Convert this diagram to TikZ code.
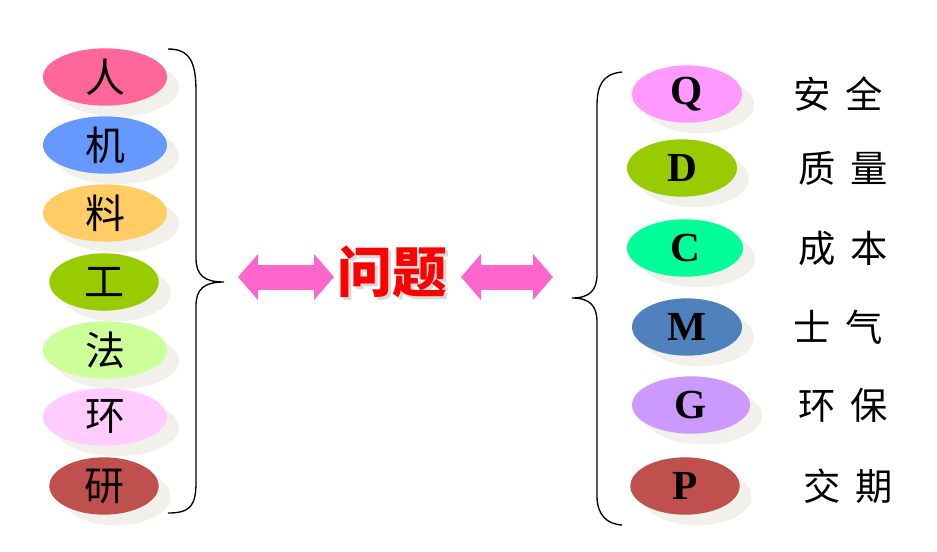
\documentclass[tikz,border=0pt]{standalone}
\usepackage{fontspec}
\setmainfont{Liberation Serif}
\newfontfamily\cjk{Noto Sans CJK SC}
\usetikzlibrary{shapes.geometric, shadows, arrows.meta}
\definecolor{shadowGray}{HTML}{F1F0EA}
\definecolor{arrowPink}{HTML}{FF66CC}
\definecolor{renPink}{HTML}{FF6699}
\definecolor{jiBlue}{HTML}{6699FF}
\definecolor{liaoGold}{HTML}{FFCC66}
\definecolor{oliveGreen}{HTML}{99CC00}
\definecolor{faLime}{HTML}{CCFF99}
\definecolor{huanRose}{HTML}{FFCCFF}
\definecolor{brickRed}{HTML}{C0504D}
\definecolor{qViolet}{HTML}{FF99FF}
\definecolor{cMint}{HTML}{00FF99}
\definecolor{mSteel}{HTML}{4F81BD}
\definecolor{gLilac}{HTML}{CC99FF}

\begin{document}
\begin{tikzpicture}[x=0.75pt, y=-0.75pt,
    blob/.style={ellipse, inner sep=0pt, minimum height=43pt, minimum width=93pt,
      drop shadow={shadow xshift=9pt, shadow yshift=-8pt, fill=shadowGray, opacity=1}},
    hanzi/.style={font=\cjk\fontsize{30}{30}\selectfont},
    letter/.style={font=\bfseries\fontsize{31}{31}\selectfont},
    word/.style={font=\cjk\fontsize{28}{28}\selectfont},
    brace/.style={line width=1pt, black},
    dbl/.style={line width=18.75pt, arrowPink,
      {Triangle[width=33.75pt, length=15pt]}-{Triangle[width=33.75pt, length=15pt]}}]
  \useasboundingbox (0,0) rectangle (937,551);

  % left column
  \node[blob, fill=renPink, hanzi] (ren) at (105,77) {人};
  \node[blob, fill=jiBlue, hanzi] (ji) at (105,145) {机};
  \node[blob, fill=liaoGold, hanzi] (liao) at (105,213) {料};
  \node[blob, fill=oliveGreen, hanzi, minimum width=82pt] (gong) at (104,282) {工};
  \node[blob, fill=faLime, hanzi] (fa) at (105,350) {法};
  \node[blob, fill=huanRose, hanzi] (huan) at (105,417) {环};
  \node[blob, fill=brickRed, hanzi, minimum width=82pt] (yan) at (104,486) {研};

  \draw[brace] (168,49) .. controls (190,49) and (196,62) .. (196,92) -- (196,258)
    .. controls (196,275) and (204,282) .. (224,282) coordinate (ltip)
    .. controls (204,282) and (196,289) .. (196,306) -- (196,482)
    .. controls (196,506) and (190,513) .. (168,513);

  % centre
  \node[font=\cjk\bfseries\fontsize{41}{41}\selectfont, text=shadowGray!80!gray] at (395,275) {问题};
  \node[font=\cjk\bfseries\fontsize{41}{41}\selectfont, text=red] (wenti) at (392,272) {问题};
  \coordinate (aL1) at (238,277);
  \coordinate (aL2) at (334,277);
  \coordinate (aR1) at (461,277);
  \coordinate (aR2) at (553,277);
  \draw[dbl] (aL1) -- (aL2);
  \draw[dbl] (aR1) -- (aR2);

  % right column
  \draw[brace] (622,72) .. controls (602,74) and (597,86) .. (597,106) -- (597,274)
    .. controls (597,290) and (590,298) .. (572,298) coordinate (rtip)
    .. controls (590,298) and (597,306) .. (597,322) -- (597,496)
    .. controls (597,514) and (606,524) .. (622,525);

  \node[blob, fill=qViolet, letter, minimum width=82.5pt] (q) at (687,94) {Q};
  \node[blob, fill=oliveGreen, letter, minimum width=82.5pt] (d) at (682,168) {D};
  \node[blob, fill=cMint, letter, minimum width=87pt] (c) at (685,248) {C};
  \node[blob, fill=mSteel, letter, minimum width=82.5pt] (m) at (687,327) {M};
  \node[blob, fill=gLilac, letter, minimum width=88.5pt] (g) at (691,405) {G};
  \node[blob, fill=brickRed, letter, minimum width=82pt] (p) at (685,486) {P};

  \node[word] (anquan) at (838,94) {安\hspace{11pt}全};
  \node[word] (zhiliang) at (843,168) {质\hspace{11pt}量};
  \node[word] (chengben) at (843,248) {成\hspace{11pt}本};
  \node[word] (shiqi) at (838,327) {士\hspace{11pt}气};
  \node[word] (huanbao) at (843,405) {环\hspace{11pt}保};
  \node[word] (jiaoqi) at (848,486) {交\hspace{11pt}期};
\end{tikzpicture}
\end{document}
